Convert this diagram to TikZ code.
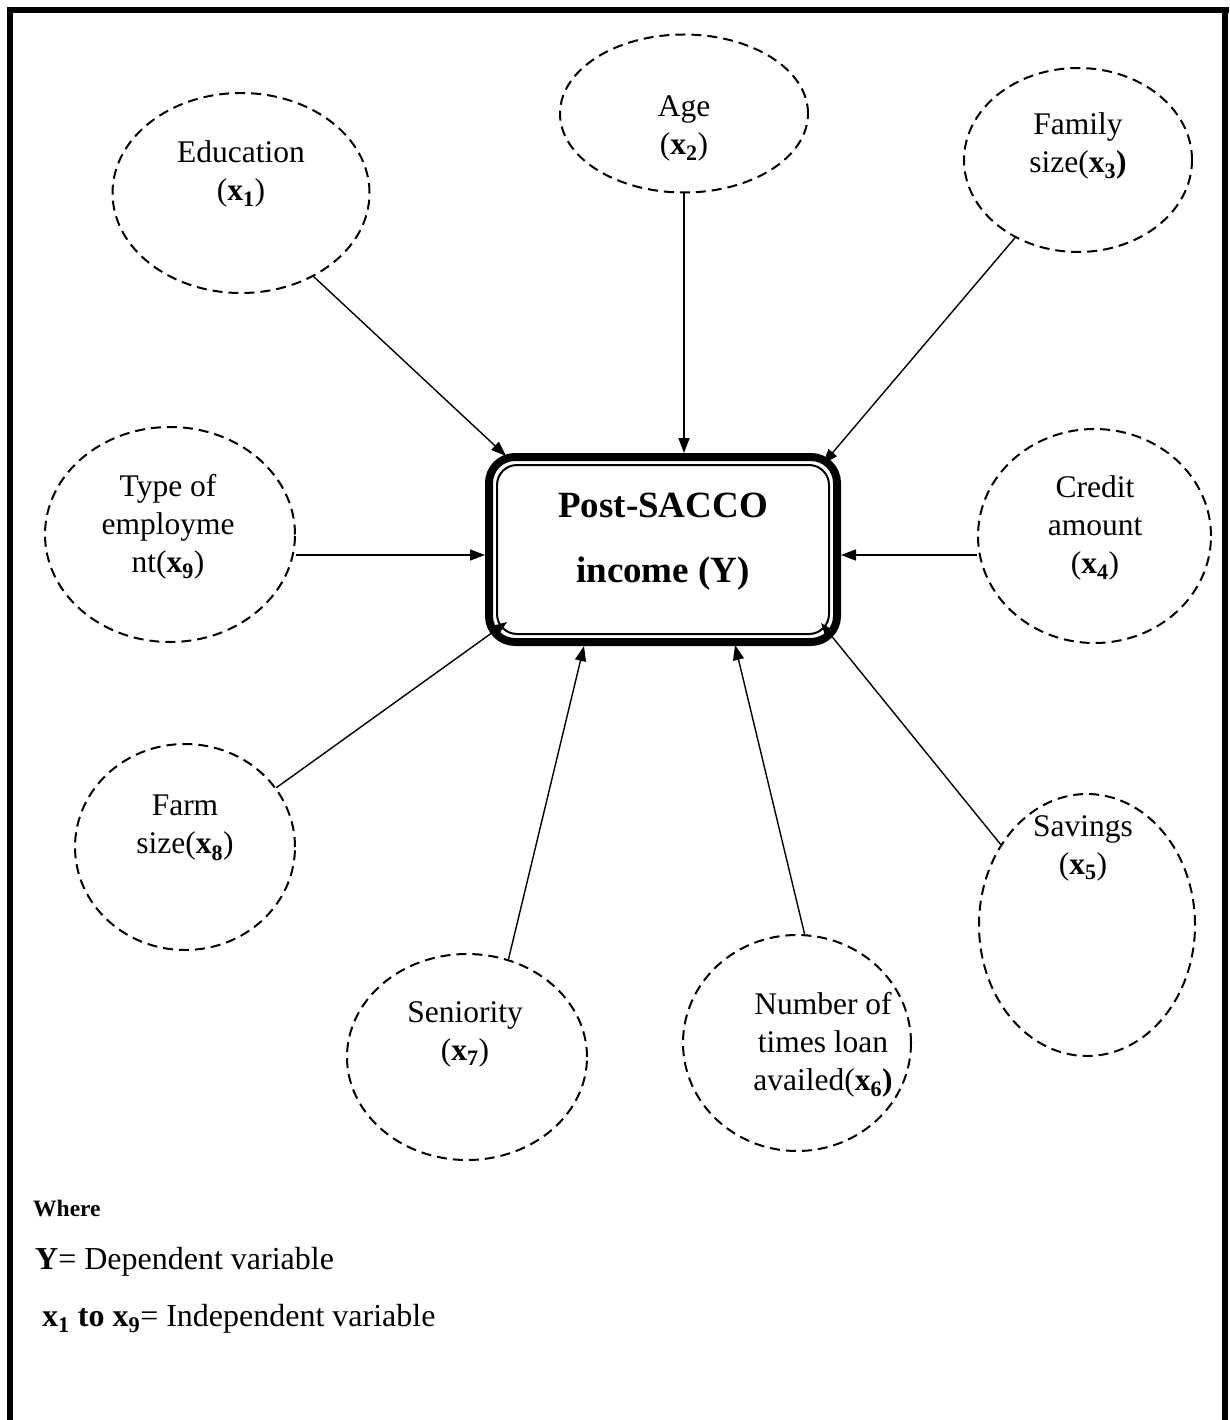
\documentclass[tikz,border=0pt]{standalone}
\usepackage{fontspec}
\setmainfont{Liberation Serif}
\usetikzlibrary{shapes.geometric,arrows.meta,calc}
\begin{document}
\begin{tikzpicture}[x=1pt,y=-1pt,
  oval/.style={ellipse,draw,line width=2pt,dash pattern=on 10pt off 6pt,inner sep=0pt},
  lbl/.style={align=center,inner sep=0pt,font=\fontsize{31.5}{38}\selectfont},
  conn/.style={line width=1.4pt,-{Triangle[length=15pt,width=11pt]}},
  legend/.style={anchor=base west,inner sep=0pt,font=\fontsize{32}{38}\selectfont}]
\useasboundingbox (0,0) rectangle (1229,1420);
% frame
\draw[line width=6pt] (10,1430) -- (10,10) -- (1229,10);
\draw[line width=6pt] (1225,10) -- (1225,1430);
% central box
\node[draw,line width=8pt,rounded corners=26pt,minimum width=348pt,minimum height=185pt,inner sep=0pt] (box) at (663,549.5) {};
\node[draw,line width=2pt,rounded corners=20pt,minimum width=332pt,minimum height=169pt,inner sep=0pt] (boxin) at (663,549.5) {};
\node[align=center,inner sep=0pt,font=\fontsize{37}{65}\selectfont\bfseries] (boxtxt) at (663,542) {Post-SACCO\\income (Y)};
% ellipses
\node[oval,minimum width=257pt,minimum height=200pt] (e1) at (241,193) {};
\node[oval,minimum width=248pt,minimum height=158pt] (e2) at (684,113.5) {};
\node[oval,minimum width=228pt,minimum height=184pt] (e3) at (1078,160) {};
\node[oval,minimum width=233pt,minimum height=214pt] (e4) at (1094.5,536) {};
\node[oval,minimum width=216pt,minimum height=262pt] (e5) at (1087,925) {};
\node[oval,minimum width=228pt,minimum height=216pt] (e6) at (797,1043) {};
\node[oval,minimum width=240pt,minimum height=206pt] (e7) at (467,1057) {};
\node[oval,minimum width=220pt,minimum height=206pt] (e8) at (185,847) {};
\node[oval,minimum width=250pt,minimum height=215pt] (e9) at (170,534.5) {};
% labels
\node[lbl] (l1) at (241,173.5) {Education\\(\textbf{x\textsubscript{1}})};
\node[lbl] (l2) at (684,128) {Age\\(\textbf{x\textsubscript{2}})};
\node[lbl] (l3) at (1078,146) {Family\\size(\textbf{x\textsubscript{3})}};
\node[lbl] (l4) at (1095,528) {Credit\\amount\\(\textbf{x\textsubscript{4}})};
\node[lbl] (l5) at (1083,848) {Savings\\(\textbf{x\textsubscript{5}})};
\node[lbl] (l6) at (823,1044.5) {Number of\\times loan\\availed(\textbf{x\textsubscript{6})}};
\node[lbl] (l7) at (465,1034) {Seniority\\(\textbf{x\textsubscript{7}})};
\node[lbl] (l8) at (185,828) {Farm\\size(\textbf{x\textsubscript{8}})};
\node[lbl] (l9) at (168,526.5) {Type of\\employme\\nt(\textbf{x\textsubscript{9}})};
% arrow tips on the box
\coordinate (t1) at (506,456);
\coordinate (t2) at (684,453);
\coordinate (t3) at (823,464);
\coordinate (t4) at (841,555);
\coordinate (t5) at (821,623);
\coordinate (t6) at (735,645);
\coordinate (t7) at (584,646);
\coordinate (t8) at (507,622);
\coordinate (t9) at (485,555);
% connectors
\draw[conn] (e1.-49) -- (t1);
\draw[conn] (e2.south) -- (t2);
\draw[conn] (e3.-129) -- (t3);
\draw[conn] (e4.west |- t4) -- (t4);
\draw[conn] (e5.137) -- (t5);
\draw[conn] (e6.86) -- (t6);
\draw[conn] (e7.67) -- (t7);
\draw[conn] (e8.33) -- (t8);
\draw[conn] (e9.east |- t9) -- (t9);
% legend
\node[legend,font=\fontsize{23.5}{28}\selectfont\bfseries] (where) at (33,1216) {Where};
\node[legend] (ydef) at (35,1269) {\textbf{Y}= Dependent variable};
\node[legend] (xdef) at (42,1326) {\textbf{x\textsubscript{1} to x\textsubscript{9}}= Independent variable};
\end{tikzpicture}
\end{document}
